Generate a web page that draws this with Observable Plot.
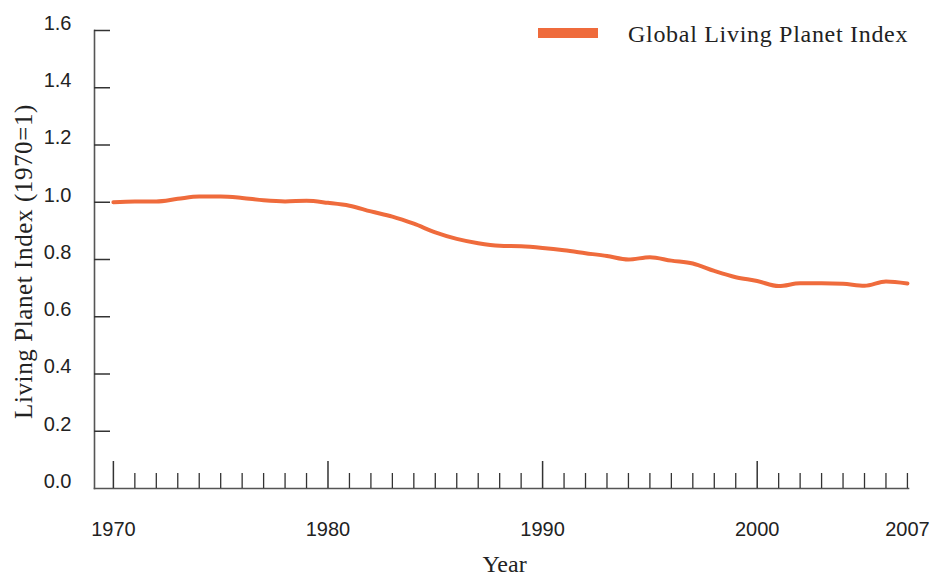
<!DOCTYPE html>
<html><head><meta charset="utf-8">
<script src="https://cdn.jsdelivr.net/npm/d3@7"></script>
<script src="https://cdn.jsdelivr.net/npm/@observablehq/plot@0.6"></script>
<style>
body{margin:0;background:#fff}
#wrap{position:relative;width:931px;height:578px}
#legend{position:absolute;left:538px;top:19px;height:30px;display:flex;align-items:center;font-family:"Liberation Serif","DejaVu Serif",serif;font-size:24px;letter-spacing:0.7px;color:#222;white-space:nowrap}
#legend .sw{display:inline-block;width:60px;height:10px;background:#ef6b3c;margin-right:30px;margin-top:-3px}
</style></head><body>
<div id="wrap"><div id="legend"><span class="sw"></span><span>Global Living Planet Index</span></div></div>
<script>
const years = [1970,1971,1972,1973,1974,1975,1976,1977,1978,1979,1980,1981,1982,1983,1984,1985,1986,1987,1988,1989,1990,1991,1992,1993,1994,1995,1996,1997,1998,1999,2000,2001,2002,2003,2004,2005,2006,2007];
const lpi = [1.000,1.003,1.003,1.012,1.020,1.020,1.015,1.007,1.003,1.005,0.998,0.988,0.968,0.950,0.925,0.895,0.872,0.857,0.848,0.846,0.840,0.832,0.822,0.812,0.800,0.808,0.796,0.786,0.760,0.738,0.725,0.707,0.717,0.717,0.715,0.708,0.723,0.716];
const yTicks = [0.2,0.4,0.6,0.8,1.0,1.2,1.4,1.6];
const yLabels = [0.0,0.2,0.4,0.6,0.8,1.0,1.2,1.4,1.6];
const majorYears = [1970,1980,1990,2000];
const minorYears = years.filter(y => !majorYears.includes(y));
const xLabels = [1970,1980,1990,2000,2007];
const yTitle = "Living Planet Index (1970=1)";
const xTitle = "Year";

const data = years.map((y, i) => ({year: y, value: lpi[i]}));
const serif = '"Liberation Serif","DejaVu Serif",serif';
const chart = Plot.plot({
  width: 931, height: 578,
  marginLeft: 94, marginRight: 23, marginTop: 30, marginBottom: 90,
  style: {fontFamily: '"Liberation Sans", Arial, sans-serif', fontSize: "20px", color: "#222", background: "#fff"},
  x: {domain: [1969.12, 2007.05]},
  y: {domain: [0, 1.6]},
  marks: [
    Plot.frame({anchor: "left", stroke: "#555", strokeWidth: 1.6}),
    Plot.frame({anchor: "bottom", stroke: "#555", strokeWidth: 1.6}),
    Plot.axisY(yTicks, {tickSize: -16, tickFormat: () => "", label: null, stroke: "#333", strokeWidth: 1.5}),
    Plot.axisY(yLabels, {tickSize: 0, tickPadding: 23, dy: -7, tickFormat: d3.format(".1f"), label: null, fill: "#222"}),
    Plot.axisX(majorYears, {tickSize: -27, tickFormat: () => "", label: null, stroke: "#333", strokeWidth: 1.5}),
    Plot.axisX(minorYears, {tickSize: -15, tickFormat: () => "", label: null, stroke: "#333", strokeWidth: 1.3}),
    Plot.axisX(xLabels, {tickSize: 0, tickPadding: 41, lineAnchor: "middle", tickFormat: d => String(d), label: null, fill: "#222"}),
    Plot.line(data, {x: "year", y: "value", stroke: "#ef6b3c", strokeWidth: 4, curve: "monotone-x", strokeLinejoin: "round"}),
    Plot.text([yTitle], {frameAnchor: "left", textAnchor: "middle", rotate: -90, dx: -71, dy: 2, fontFamily: serif, fontSize: 25, fill: "#222"}),
    Plot.text([xTitle], {frameAnchor: "bottom", textAnchor: "middle", dy: 83, dx: 3, fontFamily: serif, fontSize: 24, fill: "#222"})
  ]
});
chart.querySelectorAll("text").forEach(t => { if (t.textContent === yTitle) t.style.letterSpacing = "0.6px"; });
document.getElementById("wrap").prepend(chart);
</script>
</body></html>
